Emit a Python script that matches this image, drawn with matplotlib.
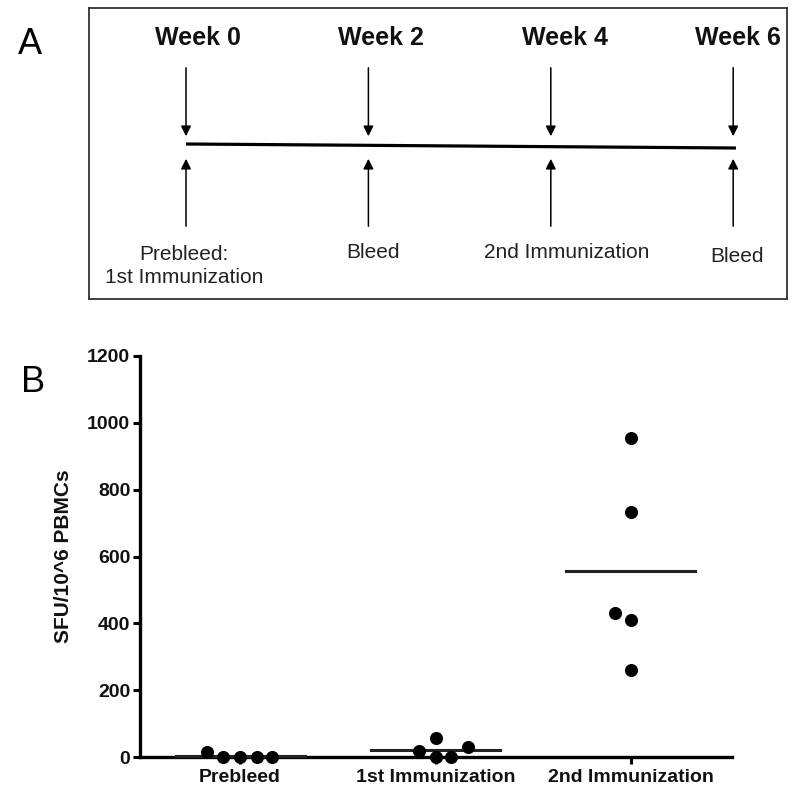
import matplotlib
matplotlib.use("Agg")
import matplotlib.pyplot as plt

plt.rcParams['font.family'] = ['Liberation Sans', 'DejaVu Sans']

# panel A : timeline
weeks = [0, 2, 4, 6]
week_labels = ["Week 0", "Week 2", "Week 4", "Week 6"]
week_label_dx = [0.13, 0.14, 0.16, 0.05]
event_labels = ["Prebleed:\n1st Immunization", "Bleed", "2nd Immunization", "Bleed"]
event_label_dx = [-0.02, 0.05, 0.17, 0.04]
event_label_y = [266, 253, 252, 256]

# panel B : ELISpot
groups = ["Prebleed", "1st Immunization", "2nd Immunization"]
prebleed = [16, 0, 0, 0, 0]
first_imm = [18, 57, 0, 0, 30]
second_imm = [954, 732, 432, 411, 261]
medians = [3, 22, 558]
# horizontal jitter of the dots inside each column
jitter = [
    [-0.17, -0.085, 0.0, 0.085, 0.165],
    [-0.085, 0.0, 0.0, 0.08, 0.165],
    [0.0, 0.0, -0.08, 0.0, 0.0],
]

W, H = 791, 789
fig = plt.figure(figsize=(W / 100, H / 100), dpi=100)

# ---- panel A
x0, x1, y0, y1 = 89, 787, 8, 299
axA = fig.add_axes([x0 / W, 1 - y1 / H, (x1 - x0) / W, (y1 - y0) / H])
px_week = 91.2
axA.set_xlim(-(186 - x0) / px_week, (x1 - 186) / px_week)
axA.set_ylim(y1, y0)
axA.set_xticks([])
axA.set_yticks([])
for s in axA.spines.values():
    s.set_linewidth(1.3)
    s.set_color('#333333')

axA.plot([weeks[0], weeks[-1] + 0.03], [144, 148], color='black', lw=2.3, solid_capstyle='butt')
for i, w in enumerate(weeks):
    axA.annotate("", xy=(w, 139), xytext=(w, 65),
                 arrowprops=dict(arrowstyle='-|>', color='black', lw=1.1, mutation_scale=15))
    axA.annotate("", xy=(w, 156), xytext=(w, 229),
                 arrowprops=dict(arrowstyle='-|>', color='black', lw=1.1, mutation_scale=15))
    axA.text(w + week_label_dx[i], 38, week_labels[i], ha='center', va='center',
             fontsize=18, fontweight='bold', color='#111111')
    axA.text(w + event_label_dx[i], event_label_y[i], event_labels[i], ha='center', va='center',
             fontsize=15, color='#222222', linespacing=1.3)

fig.text(30 / W, 1 - 45 / H, "A", fontsize=26, ha='center', va='center')
fig.text(33 / W, 1 - 382 / H, "B", fontsize=26, ha='center', va='center')

# ---- panel B
bl, br, bt, bb = 140, 732, 356, 757
ax = fig.add_axes([bl / W, 1 - bb / H, (br - bl) / W, (bb - bt) / H])
data = [prebleed, first_imm, second_imm]
for i, vals in enumerate(data):
    xs = [i + d for d in jitter[i]]
    ax.plot(xs, vals, 'o', color='black', markersize=8.4, clip_on=False, zorder=4)
    ax.plot([i - 0.33, i + 0.33], [medians[i], medians[i]], color='#222222', lw=2.2,
            clip_on=False, zorder=3)

ax.set_xlim(-0.512, 2.517)
ax.set_ylim(0, 1200)
ax.set_yticks(range(0, 1201, 200))
ax.set_xticks(range(len(groups)))
ax.set_xticklabels(groups)
ax.spines['top'].set_visible(False)
ax.spines['right'].set_visible(False)
ax.spines['left'].set_linewidth(2.4)
ax.spines['bottom'].set_linewidth(2.4)
ax.tick_params(axis='both', width=2.2, length=5, labelsize=14, pad=2)
ax.tick_params(axis='x', pad=4)
for lab in ax.get_xticklabels() + ax.get_yticklabels():
    lab.set_fontweight('bold')
    lab.set_color('#111111')
ax.set_ylabel("SFU/10^6 PBMCs", fontsize=15, fontweight='bold', color='#111111', labelpad=10)

fig.savefig("out.png", dpi=100)
